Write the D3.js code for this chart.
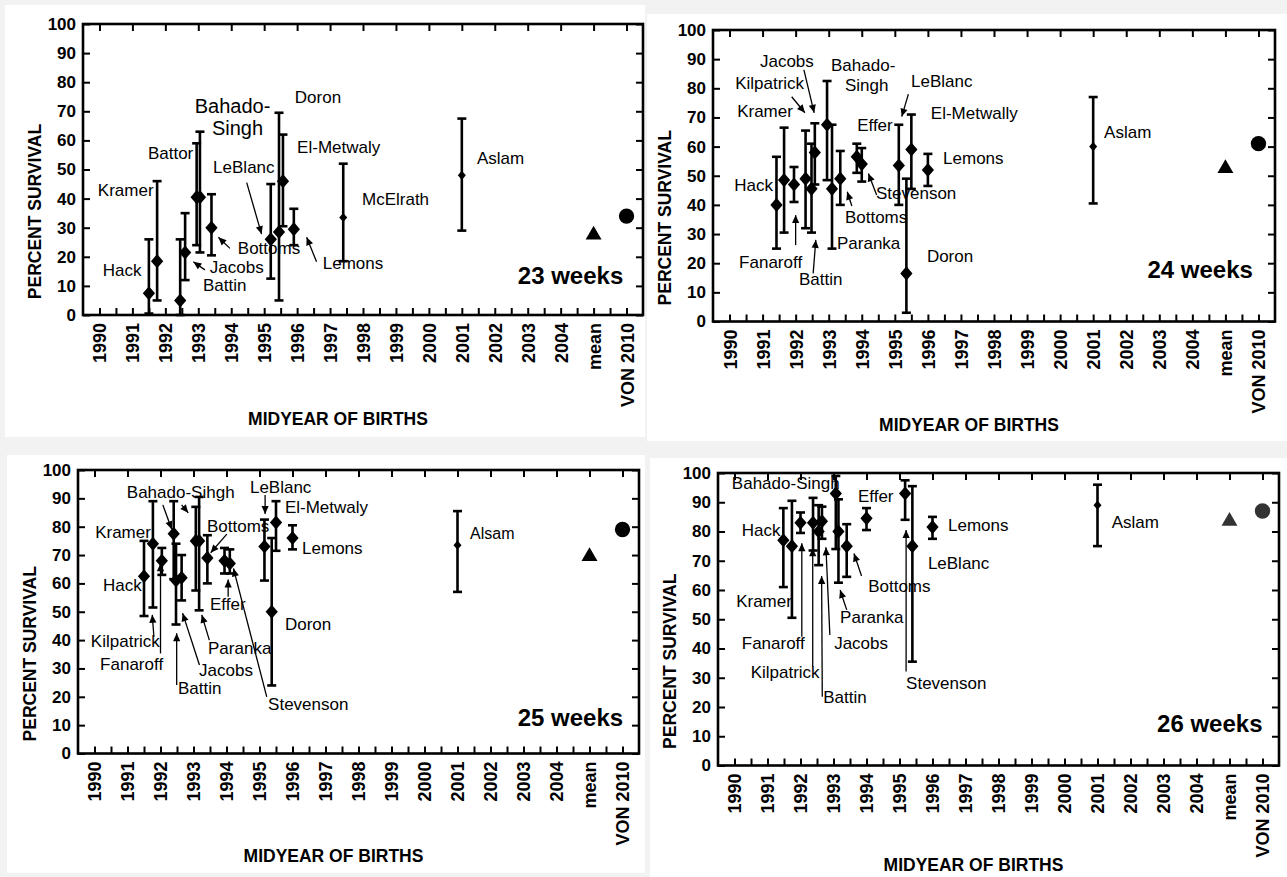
<!DOCTYPE html>
<html><head><meta charset="utf-8">
<script src="https://cdn.jsdelivr.net/npm/d3@7"></script>
<style>
body{margin:0;background:#f2f2f2;}
svg{display:block;}
text{font-family:"Liberation Sans", Arial, sans-serif;fill:#000;}
</style>
</head><body>
<svg id="chart" width="1287" height="877"></svg>
<script>
// ---------- shared axis data ----------
const xTickLabels = ["1990","1991","1992","1993","1994","1995","1996","1997","1998","1999","2000","2001","2002","2003","2004","mean","VON 2010"];
const yTickValues = [0,10,20,30,40,50,60,70,80,90,100];
const panelTitles = ["23 weeks","24 weeks","25 weeks","26 weeks"];
const meanSurvival = [27.5, 52.5, 69.5, 83.5];
const vonSurvival = [34, 61, 79, 87];

// ---------- 23 weeks ----------
const study23 = ["Hack","Kramer","Battin","Jacobs","Battor","Bahado-Singh","Bottoms","LeBlanc","Doron","El-Metwaly","Lemons","McElrath","Aslam"];
const year23  = [1991.5,1991.75,1992.45,1992.6,1992.95,1993.05,1993.4,1995.2,1995.45,1995.57,1995.9,1997.4,2001];
const value23 = [7.5,18.5,5,21.5,40.5,40.5,30,26,28.5,46,29.5,33.5,48];
const low23   = [0.5,5,0,12,24,21.5,20.5,12.5,5,30.5,24,18.5,29];
const high23  = [26,46,26,35,59,63,41.5,45,69.5,62,36.5,52,67.5];
const labels23 = [["Hack",1990.1,15.5],["Kramer",1989.95,43],["Battor",1991.47,55.7],["LeBlanc",1993.45,50.9],["Bottoms",1994.2,23],["Jacobs",1993.35,16.5],["Battin",1993.14,10.3],["Doron",1995.93,74.9],["El-Metwaly",1996.0,57.7],["Lemons",1996.78,17.9],["McElrath",1997.97,39.9],["Aslam",2001.46,54]];
const bigLabels23 = [["Bahado-",1994.04,71.8],["Singh",1994.19,64.3]];
const arrows23 = [[1993.2,15.5,1992.85,18.3],[1993.96,22.9,1993.61,26.7],[1994.47,45.5,1994.92,27.8],[1996.59,18.3,1996.29,26.7]];

// ---------- 24 weeks ----------
const study24 = ["Hack","Kramer","Fanaroff","Kilpatrick","Battin","Jacobs","Bahado-Singh","Paranka","Bottoms","Effer","Stevenson","LeBlanc","Doron","El-Metwally","Lemons","Aslam"];
const year24  = [1991.42,1991.65,1991.95,1992.3,1992.48,1992.58,1992.95,1993.1,1993.35,1993.85,1994.0,1995.12,1995.35,1995.5,1996,2001];
const value24 = [40,48.5,47,49,45.5,58,67.5,45.5,49,56.5,54,53.5,16.5,59,52,60];
const low24   = [25,30.5,41,32,30.5,47,48.5,25,40,51,48,40,3,45.5,46.5,40.5];
const high24  = [56.5,66.5,53,65.5,61,68,82.5,67.5,58.5,61,59.5,67.5,49,71,57.5,77];
const labels24 = [["Jacobs",1990.92,89.4],["Kilpatrick",1990.17,81.8],["Kramer",1990.23,72.2],["Hack",1990.14,46.8],["Fanaroff",1990.29,20.4],["Battin",1992.1,14.6],["Bahado-",1993.07,88],["Singh",1993.49,81.1],["LeBlanc",1995.49,82.5],["El-Metwally",1996.09,71.5],["Effer",1993.86,67.4],["Lemons",1996.46,56.1],["Stevenson",1994.43,44.1],["Bottoms",1993.49,35.9],["Paranka",1993.25,26.9],["Doron",1995.97,22.5],["Aslam",2001.33,65]];
const arrows24 = [[1991.88,77.1,1992.28,71.6],[1992.25,86.3,1992.56,71.6],[1992.0,26.2,1992.0,36.5],[1992.53,16.5,1992.61,28],[1993.7,39.6,1993.56,44.5],[1994.45,43.4,1994.2,50.8],[1995.41,78,1995.21,70.3]];

// ---------- 25 weeks ----------
const study25 = ["Hack","Kramer","Fanaroff","Kilpatrick","Battin","Jacobs","Bahado-Singh","Paranka","Bottoms","Effer","Stevenson","LeBlanc","Doron","El-Metwaly","Lemons","Alsam"];
const year25  = [1991.5,1991.77,1992.04,1992.4,1992.47,1992.64,1993.07,1993.17,1993.42,1993.94,1994.1,1995.15,1995.37,1995.5,1996,2001];
const value25 = [62.5,74,68,77.5,61,62,75,75,69,68,67,73,50,81.5,76,73.5];
const low25   = [48.5,51.5,63,61.5,45.5,54,57.5,50.5,60,63.5,63.5,61,24,71.5,72,57];
const high25  = [75,89,72.5,89,74,70,87,90.5,77,72.5,72,82.5,76,89,80.5,85.5];
const labels25 = [["Bahado-Sihgh",1990.98,92.2],["LeBlanc",1994.71,94],["El-Metwaly",1995.77,87],["Kramer",1990.02,78.1],["Bottoms",1993.41,80.2],["Lemons",1996.29,72.5],["Hack",1990.26,59.4],["Effer",1993.5,52.7],["Doron",1995.77,45.7],["Kilpatrick",1989.89,39.7],["Paranka",1993.44,37.2],["Fanaroff",1990.17,31.6],["Jacobs",1993.17,29.5],["Battin",1992.53,23.1],["Stevenson",1995.26,17.5],["Alsam",2001.38,77.8]];
const arrows25 = [[1992.07,87.7,1992.34,79.1],[1992.64,87.7,1992.84,84.9],[1995.17,91.2,1995.17,84.5],[1994.01,77.4,1993.52,70.8],[1994.05,55.3,1994.05,61.4],[1995.22,20,1994.21,65.3],[1991.8,41.2,1991.75,48.9],[1992.0,35.3,1992.0,67.1],[1992.49,24.2,1992.49,42.4],[1993.18,31.2,1992.67,49.5],[1993.48,40,1993.25,48.9]];

// ---------- 26 weeks ----------
const study26 = ["Hack","Kramer","Fanaroff","Kilpatrick","Battin","Jacobs","Bahado-Singh","Paranka","Bottoms","Effer","Stevenson","LeBlanc","Lemons","Aslam"];
const year26  = [1991.48,1991.74,1992.0,1992.38,1992.55,1992.65,1993.07,1993.15,1993.4,1994,1995.17,1995.39,1996,2001];
const value26 = [77,75,83,83,80,83.5,93,80,75,84.5,93,75,81.5,89];
const low26   = [61,50.5,79.5,73.5,68.5,77.5,74,62.5,64.5,80.5,84,35.5,77.5,75];
const high26  = [88,90.5,86.5,91.5,89,88.5,99,91,82.5,88,97.5,95.5,85,96];
const labels26 = [["Bahado-Singh",1989.92,96.5],["Effer",1993.74,92.1],["Hack",1990.22,80.5],["Lemons",1996.47,82.2],["LeBlanc",1995.86,69.3],["Bottoms",1994.05,61.5],["Kramer",1990.05,56.3],["Paranka",1993.2,50.7],["Fanaroff",1990.22,42],["Jacobs",1993.02,42],["Kilpatrick",1990.49,32.1],["Stevenson",1995.2,28.3],["Battin",1992.69,23.5],["Aslam",2001.43,83.4]];
const arrows26 = [[1992.04,44,1992.04,76],[1992.37,33.8,1992.37,74.3],[1992.66,23.5,1992.64,64.8],[1992.89,44.6,1992.77,74.6],[1993.4,53.2,1993.2,60],[1993.85,64.8,1993.62,72.5],[1995.2,32.1,1995.2,80.5]];

// ---------- layout (pixels) ----------
const panelLayout = [
  {sheet:[5,5,645,437],    frame:[83,24,643,315],     titleAt:[2005.9,13.7], xTitleGap:104},
  {sheet:[647,14,1287,441],frame:[713,30,1275,321.5], titleAt:[2005.83,17.7], xTitleGap:103},
  {sheet:[7,455,645,873],  frame:[78,470,639,753.5],  titleAt:[2006.02,12.5], xTitleGap:102},
  {sheet:[650,458,1287,877],frame:[718,473,1279,765.5],titleAt:[2006.0,14.2], xTitleGap:99}
];
const panelSeries = [
  {study:study23,year:year23,value:value23,low:low23,high:high23,labels:labels23,big:bigLabels23,arrows:arrows23},
  {study:study24,year:year24,value:value24,low:low24,high:high24,labels:labels24,big:[],arrows:arrows24},
  {study:study25,year:year25,value:value25,low:low25,high:high25,labels:labels25,big:[],arrows:arrows25},
  {study:study26,year:year26,value:value26,low:low26,high:high26,labels:labels26,big:[],arrows:arrows26}
];
const smallMarkerStudies = ["Aslam","Alsam","McElrath"];
const smallLabelTexts = ["Alsam"];
const summaryColor = ["#000","#000","#000","#333"];

const svg = d3.select("#chart");
svg.append("rect").attr("width",1287).attr("height",877).attr("fill","#f2f2f2");
const defs = svg.append("defs");
defs.append("marker").attr("id","ah").attr("viewBox","0 0 10 10")
  .attr("refX",10).attr("refY",5).attr("markerWidth",9).attr("markerHeight",8)
  .attr("markerUnits","userSpaceOnUse").attr("orient","auto")
  .append("path").attr("d","M0,0.5 L10,5 L0,9.5 Z").attr("fill","#000");

const diamondShape = { draw(ctx, size){ const w=Math.sqrt(size)/2, h=w*1.15;
  ctx.moveTo(0,-h); ctx.lineTo(w,0); ctx.lineTo(0,h); ctx.lineTo(-w,0); ctx.closePath(); } };

panelLayout.forEach((lay, p) => {
  const s = panelSeries[p];
  const [sx0, sy0, sx1, sy1] = lay.sheet;
  const [L, T, R, B] = lay.frame;
  svg.append("rect").attr("x",sx0).attr("y",sy0).attr("width",sx1-sx0).attr("height",sy1-sy0).attr("fill","#fff");

  const x = d3.scaleLinear().domain([1989.5, 2006.5]).range([L, R]);
  const y = d3.scaleLinear().domain([0, 100]).range([B, T]);
  const g = svg.append("g");

  // axes
  const bottom = g.append("g").attr("transform",`translate(0,${B})`)
    .call(d3.axisBottom(x).tickValues(d3.range(1990, 2006.01, 0.5)).tickSize(-7)
      .tickFormat(d => Number.isInteger(d) ? xTickLabels[d-1990] : ""));
  bottom.select(".domain").remove();
  bottom.selectAll("line").attr("stroke","#000").attr("stroke-width",2);
  bottom.selectAll("text").attr("transform","rotate(-90)").attr("x",-8).attr("y",0).attr("dy","0.36em")
    .attr("text-anchor","end").style("font-size","18px").style("font-weight","bold");

  const top = g.append("g").attr("transform",`translate(0,${T})`)
    .call(d3.axisTop(x).tickValues(d3.range(1990, 2006.01, 1)).tickSize(-7).tickFormat(""));
  top.select(".domain").remove();
  top.selectAll("line").attr("stroke","#000").attr("stroke-width",2);

  const left = g.append("g").attr("transform",`translate(${L},0)`)
    .call(d3.axisLeft(y).tickValues(yTickValues).tickSize(-7).tickPadding(7));
  left.select(".domain").remove();
  left.selectAll("line").attr("stroke","#000").attr("stroke-width",2);
  left.selectAll("text").style("font-size","17px").style("font-weight","bold");

  const right = g.append("g").attr("transform",`translate(${R},0)`)
    .call(d3.axisRight(y).tickValues(yTickValues).tickSize(-7).tickFormat(""));
  right.select(".domain").remove();
  right.selectAll("line").attr("stroke","#000").attr("stroke-width",2);

  g.append("rect").attr("x",L).attr("y",T).attr("width",R-L).attr("height",B-T)
    .attr("fill","none").attr("stroke","#000").attr("stroke-width",2.6);

  // axis titles
  g.append("text").attr("transform",`translate(${L-48},${(T+B)/2+42}) rotate(-90)`)
    .attr("text-anchor","middle").attr("dy","0.35em").style("font-size","17.5px").style("font-weight","bold")
    .text("PERCENT SURVIVAL");
  g.append("text").attr("x",(L+R)/2-25).attr("y",B+lay.xTitleGap).attr("dy","0.35em")
    .attr("text-anchor","middle").style("font-size","17.5px").style("font-weight","bold")
    .text("MIDYEAR OF BIRTHS");

  // error bars
  const idx = d3.range(s.study.length);
  const bars = g.append("g").attr("stroke","#000").attr("stroke-width",2.6);
  idx.forEach(i => {
    const cx = x(s.year[i]);
    bars.append("line").attr("x1",cx).attr("x2",cx).attr("y1",y(s.low[i])).attr("y2",y(s.high[i]));
    bars.append("line").attr("x1",cx-4.5).attr("x2",cx+4.5).attr("y1",y(s.low[i])).attr("y2",y(s.low[i]));
    bars.append("line").attr("x1",cx-4.5).attr("x2",cx+4.5).attr("y1",y(s.high[i])).attr("y2",y(s.high[i]));
  });
  g.append("g").selectAll("path").data(idx).join("path")
    .attr("transform", i => `translate(${x(s.year[i])},${y(s.value[i])})`)
    .attr("d", i => d3.symbol(diamondShape, smallMarkerStudies.includes(s.study[i]) ? 64 : 150)())
    .attr("fill","#000");

  // mean triangle & VON circle
  g.append("path").attr("transform",`translate(${x(2005)},${y(meanSurvival[p])})`)
    .attr("d", d3.symbol(d3.symbolTriangle, 110)()).attr("fill", summaryColor[p]);
  g.append("path").attr("transform",`translate(${x(2006)},${y(vonSurvival[p])})`)
    .attr("d", d3.symbol(d3.symbolCircle, 185)()).attr("fill", summaryColor[p]);

  // arrows
  g.append("g").selectAll("line").data(s.arrows).join("line")
    .attr("x1",d=>x(d[0])).attr("y1",d=>y(d[1])).attr("x2",d=>x(d[2])).attr("y2",d=>y(d[3]))
    .attr("stroke","#000").attr("stroke-width",1.3).attr("marker-end","url(#ah)");

  // labels
  g.append("g").selectAll("text").data(s.labels).join("text")
    .attr("x",d=>x(d[1])).attr("y",d=>y(d[2])).attr("dy","0.35em")
    .style("font-size", d => smallLabelTexts.includes(d[0]) ? "16px" : "17px")
    .text(d=>d[0]);
  g.append("g").selectAll("text").data(s.big).join("text")
    .attr("x",d=>x(d[1])).attr("y",d=>y(d[2])).attr("dy","0.35em").attr("text-anchor","middle")
    .style("font-size","20px").text(d=>d[0]);

  // panel title
  g.append("text").attr("x",x(lay.titleAt[0])).attr("y",y(lay.titleAt[1])).attr("dy","0.35em")
    .attr("text-anchor","end").style("font-size","24px").style("font-weight","bold")
    .text(panelTitles[p]);
});
</script>
</body></html>
